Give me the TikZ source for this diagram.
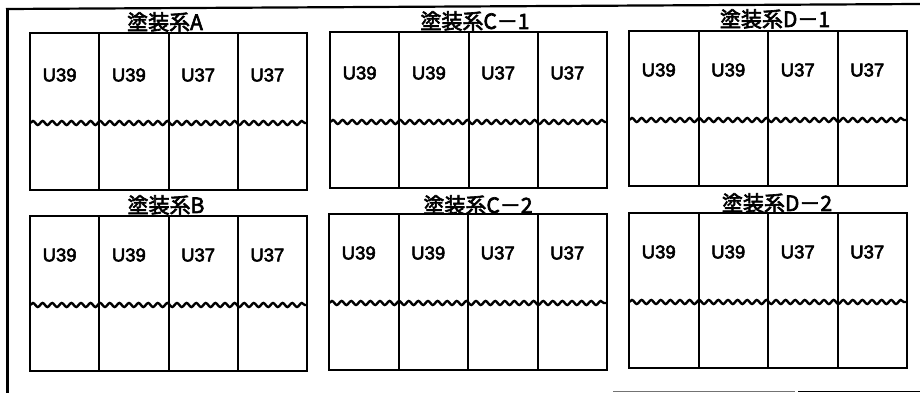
\documentclass[tikz,border=0pt]{standalone}
\usepackage{fontspec}
\setmainfont{Liberation Sans}
\newfontfamily\jpfont[FakeBold=3]{Noto Sans CJK JP}
\newfontfamily\lblfont[FakeBold=3]{Liberation Sans}
\usetikzlibrary{decorations.pathmorphing}
\tikzset{
  frameline/.style={line width=2.2pt},
  cellline/.style={line width=2pt},
  waveline/.style={line width=2.4pt, decorate, decoration={snake, segment length=9.6pt, amplitude=2pt}},
  lbl/.style={font=\lblfont\fontsize{18.5}{18.5}\selectfont, inner sep=0pt},
  ttl/.style={font=\jpfont\fontsize{21}{21}\selectfont, inner sep=0pt},
}
\newcommand\mypanel[7]{%
  \pgfmathsetmacro\pw{(#4-#2)/4}
  \draw[cellline] (#2,#3) rectangle (#4,#5);
  \foreach \i in {1,2,3} {\draw[cellline] ({#2+\i*\pw},#3) -- ({#2+\i*\pw},#5);}
  \draw[waveline] (#2,#6) -- (#4,#6);
  \foreach \i/\t in {0/U39,1/U39,2/U37,3/U37} {\node[lbl] (#1-\i) at ({#2+(\i+0.5)*\pw-5},#7) {\t};}
}
\begin{document}
\begin{tikzpicture}[x=1pt,y=-1pt]
\useasboundingbox (0,0) rectangle (920,393);
% outer frame
\coordinate (ftl) at (6,9);
\coordinate (ftr) at (920,4);
\coordinate (fbl) at (7.5,393);
\draw[frameline] (ftl) -- (ftr);
\draw[frameline] (7.5,8) -- (fbl);
\coordinate (bl1) at (613,391.5);
\coordinate (bl2) at (795,391.5);
\coordinate (bl3) at (798,391.5);
\coordinate (bl4) at (920,391.5);
\draw[line width=1.3pt, black!55] (bl1) -- (bl2);
\draw[line width=1.6pt] (bl3) -- (bl4);
% panels
\mypanel{A}{30}{33}{307}{190}{123}{75}
\mypanel{C1}{330}{32}{607}{188}{122}{73}
\mypanel{D1}{629}{31}{907}{186}{120}{70}
\mypanel{B}{30}{216}{307}{371}{305}{255}
\mypanel{C2}{329}{214}{607}{370}{303}{253}
\mypanel{D2}{629}{213}{907}{368}{302}{252}
% titles
\node[ttl] (tA) at (165,22) {塗装系A};
\node[ttl] (tC1) at (475,21) {塗装系C－1};
\node[ttl] (tD1) at (775,19) {塗装系D－1};
\node[ttl] (tB) at (166,205) {塗装系B};
\node[ttl] (tC2) at (478,205) {塗装系C－2};
\node[ttl] (tD2) at (777,203) {塗装系D－2};
\end{tikzpicture}
\end{document}
